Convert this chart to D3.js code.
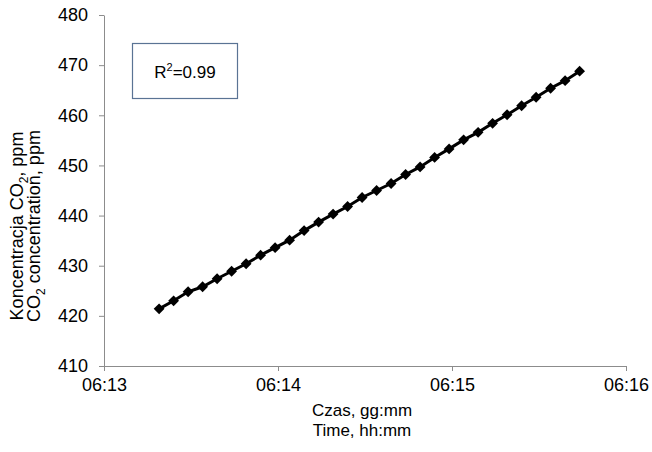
<!DOCTYPE html>
<html>
<head>
<meta charset="utf-8">
<script src="https://cdn.jsdelivr.net/npm/d3@7/dist/d3.min.js"></script>
<style>
	body { margin: 0; background: #fff; }
	svg { display: block; font-family: "Liberation Sans", Arial, sans-serif; }
	.axis path, .axis line { stroke: #8c8c8c; }
	.axis text { font-size: 18px; fill: #000; }
</style>
</head>
<body>
<svg id="myGraph" width="652" height="452"></svg>
<script>

// 측정 시간 (hh:mm:ss)
var times = [
	"06:13:19", "06:13:24", "06:13:29", "06:13:34", "06:13:39", "06:13:44",
	"06:13:49", "06:13:54", "06:13:59", "06:14:04", "06:14:09", "06:14:14",
	"06:14:19", "06:14:24", "06:14:29", "06:14:34", "06:14:39", "06:14:44",
	"06:14:49", "06:14:54", "06:14:59", "06:15:04", "06:15:09", "06:15:14",
	"06:15:19", "06:15:24", "06:15:29", "06:15:34", "06:15:39", "06:15:44"
]

// CO2 농도, ppm
var co2 = [
	421.4, 423.0, 424.8, 425.8, 427.4, 428.9,
	430.4, 432.1, 433.6, 435.1, 437.0, 438.7,
	440.3, 441.8, 443.6, 445.0, 446.4, 448.2,
	449.7, 451.6, 453.3, 455.1, 456.6, 458.4,
	460.1, 461.9, 463.6, 465.4, 466.9, 468.8
]

var xTicks = ["06:13", "06:14", "06:15", "06:16"]
var yTicks = [410, 420, 430, 440, 450, 460, 470, 480]
var r2Label = "0.99"

var parseTime = d3.timeParse("%H:%M:%S")
var parseTick = d3.timeParse("%H:%M")

var svg = d3.select("#myGraph")

// 플롯 영역 (window.top 과 충돌하지 않게 이름을 다르게)
var plotLeft = 104, plotRight = 626, plotTop = 15, plotBottom = 366

var xScale = d3.scaleTime()
	.domain([parseTick(xTicks[0]), parseTick(xTicks[xTicks.length - 1])])
	.range([plotLeft, plotRight])

var yScale = d3.scaleLinear()
	.domain([yTicks[0], yTicks[yTicks.length - 1]])
	.range([plotBottom, plotTop])

// y축
var yAxis = d3.axisLeft(yScale)
	.tickValues(yTicks)
	.tickSizeInner(5)
	.tickSizeOuter(0)
	.tickPadding(11)

svg.append("g")
	.attr("class", "axis")
	.attr("transform", "translate(" + plotLeft + ",0)")
	.call(yAxis)

// x축
var xAxis = d3.axisBottom(xScale)
	.tickValues(xTicks.map(parseTick))
	.tickFormat(d3.timeFormat("%H:%M"))
	.tickSizeInner(5)
	.tickSizeOuter(0)
	.tickPadding(7)

svg.append("g")
	.attr("class", "axis")
	.attr("transform", "translate(0," + plotBottom + ")")
	.call(xAxis)

// 데이터
var dataSet = times.map(function(t, i) { return { t: parseTime(t), v: co2[i] } })

var line = d3.line()
	.x(function(d) { return xScale(d.t) })
	.y(function(d) { return yScale(d.v) })

svg.append("path")
	.datum(dataSet)
	.attr("d", line)
	.attr("fill", "none")
	.attr("stroke", "#000")
	.attr("stroke-width", 3)

svg.append("g")
	.selectAll("path")
	.data(dataSet)
	.enter()
	.append("path")
	.attr("d", d3.symbol().type(d3.symbolDiamond2).size(75))
	.attr("transform", function(d) { return "translate(" + xScale(d.t) + "," + yScale(d.v) + ")" })
	.attr("fill", "#000")

// R² 박스
svg.append("rect")
	.attr("x", 132.5)
	.attr("y", 43.5)
	.attr("width", 105)
	.attr("height", 55)
	.attr("fill", "#fff")
	.attr("stroke", "#5a7394")
	.attr("stroke-width", 1.2)

var r2 = svg.append("text")
	.attr("x", 185)
	.attr("y", 78)
	.attr("text-anchor", "middle")
	.style("font-size", "17px")
r2.append("tspan").text("R")
r2.append("tspan").attr("dy", -7).style("font-size", "11px").text("2")
r2.append("tspan").attr("dy", 7).text("=" + r2Label)

// x축 제목
svg.append("text")
	.attr("x", 362)
	.attr("y", 416)
	.attr("text-anchor", "middle")
	.style("font-size", "17px")
	.text("Czas, gg:mm")
svg.append("text")
	.attr("x", 362)
	.attr("y", 436)
	.attr("text-anchor", "middle")
	.style("font-size", "17px")
	.text("Time, hh:mm")

// y축 제목
var yTitle = svg.append("g")
	.attr("transform", "translate(23,226) rotate(-90)")
	.style("font-size", "18px")

var t1 = yTitle.append("text").attr("text-anchor", "middle").attr("y", 0)
t1.append("tspan").text("Koncentracja CO")
t1.append("tspan").attr("dy", 5).style("font-size", "12px").text("2")
t1.append("tspan").attr("dy", -5).text(", ppm")

var t2 = yTitle.append("text").attr("text-anchor", "middle").attr("y", 17)
t2.append("tspan").text("CO")
t2.append("tspan").attr("dy", 5).style("font-size", "12px").text("2")
t2.append("tspan").attr("dy", -5).text(" concentration, ppm")

</script>
</body>
</html>
